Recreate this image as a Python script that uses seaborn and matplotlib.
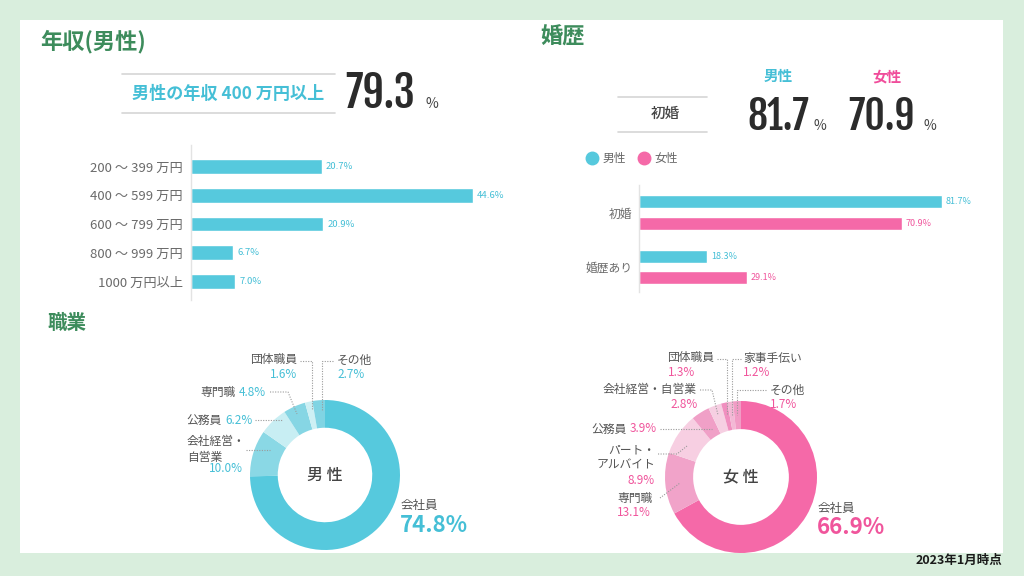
import matplotlib
matplotlib.use('Agg')
import matplotlib.pyplot as plt
import seaborn as sns
import pandas as pd
from matplotlib.lines import Line2D
from matplotlib.patches import Rectangle

sns.set_theme(style='white')
plt.rcParams['font.family'] = ['Noto Sans CJK JP', 'DejaVu Sans']

# ---------------- data ----------------
income_labels = ['200 ～ 399 万円', '400 ～ 599 万円', '600 ～ 799 万円', '800 ～ 999 万円', '1000 万円以上']
income_values = [20.7, 44.6, 20.9, 6.7, 7.0]
income_headline = 79.3

marriage_categories = ['初婚', '婚歴あり']
marriage_men = [81.7, 18.3]
marriage_women = [70.9, 29.1]

job_men_labels = ['会社員', '会社経営・自営業', '公務員', '専門職', '団体職員', 'その他']
job_men_values = [74.8, 10.0, 6.2, 4.8, 1.6, 2.7]
job_women_labels = ['会社員', '専門職', 'パート・アルバイト', '公務員', '会社経営・自営業',
                    '団体職員', '家事手伝い', 'その他']
job_women_values = [66.9, 13.1, 8.9, 3.9, 2.8, 1.3, 1.2, 1.7]

# ---------------- style ----------------
W, H = 1024, 576
BG = '#d9eedd'
GREEN = '#3d8c5c'
CYAN = '#56c9dd'
CYAN_T = '#45bfd6'
PINK = '#f569a8'
PINK_T = '#f0559c'
DARK = '#555555'
NUM = '#2b2b2b'
NUMFONT = ['Fjalla One', 'Roboto Condensed', 'IBM Plex Sans Condensed', 'DejaVu Sans']
male_colors = ['#56c9dd', '#8ad8e5', '#c8eef3', '#86d6e4', '#cdf0f4', '#80d4e3']
female_colors = ['#f569a8', '#f1a3c9', '#f7cfe2', '#f0a0c7', '#f6cfe2', '#f08fbf', '#f3b8d5', '#f19cc5']

fig = plt.figure(figsize=(W / 100, H / 100), dpi=100, facecolor=BG)


def rect(x0, y0, x1, y1):
    return [x0 / W, 1 - y1 / H, (x1 - x0) / W, (y1 - y0) / H]


# background card
bg = fig.add_axes([0, 0, 1, 1])
bg.set_xlim(0, W)
bg.set_ylim(H, 0)
bg.axis('off')
bg.add_patch(Rectangle((20, 20), 983, 533, facecolor='white', edgecolor='none'))

# ---------------- income bars ----------------
ax1 = fig.add_axes(rect(191, 145, 520, 300))
ax1.set_facecolor('none')
df_inc = pd.DataFrame({'label': income_labels, 'value': income_values})
sns.barplot(data=df_inc, x='value', y='label', ax=ax1, color=CYAN, width=0.52, saturation=1)
ax1.set_xlim(0, 52.09)
ax1.set_ylim(4.643, -0.748)
for s in ['top', 'right', 'bottom']:
    ax1.spines[s].set_visible(False)
ax1.spines['left'].set_color('#e3e3e3')
ax1.spines['left'].set_linewidth(1)
ax1.set_xticks([])
ax1.set_xlabel('')
ax1.set_ylabel('')
ax1.tick_params(axis='y', length=0, pad=6, labelsize=9.5, labelcolor='#6a6a6a')
for c in ax1.containers:
    ax1.bar_label(c, fmt='%.1f%%', padding=3, fontsize=6.8, color=CYAN_T)

# ---------------- marriage bars ----------------
ax2 = fig.add_axes(rect(639, 185, 1000, 292))
ax2.set_facecolor('none')
df_mar = pd.DataFrame({
    'cat': marriage_categories * 2,
    'sex': ['男性'] * len(marriage_men) + ['女性'] * len(marriage_women),
    'value': marriage_men + marriage_women,
})
sns.barplot(data=df_mar, x='value', y='cat', hue='sex', hue_order=['男性', '女性'],
            palette={'男性': CYAN, '女性': PINK}, width=0.8, gap=0.4, saturation=1,
            legend=False, ax=ax2)
ax2.set_xlim(0, 97.4)
ax2.set_ylim(1.459, -0.505)
for s in ['top', 'right', 'bottom']:
    ax2.spines[s].set_visible(False)
ax2.spines['left'].set_color('#e3e3e3')
ax2.spines['left'].set_linewidth(1)
ax2.set_xticks([])
ax2.set_xlabel('')
ax2.set_ylabel('')
ax2.tick_params(axis='y', length=0, pad=5, labelsize=8.5, labelcolor='#6a6a6a')
ax2.bar_label(ax2.containers[0], fmt='%.1f%%', padding=3, fontsize=6.5, color=CYAN_T)
ax2.bar_label(ax2.containers[1], fmt='%.1f%%', padding=3, fontsize=6.5, color=PINK_T)

fig.legend(handles=[Line2D([], [], marker='o', ls='none', color=CYAN, markersize=9),
                    Line2D([], [], marker='o', ls='none', color=PINK, markersize=9)],
           labels=['男性', '女性'], loc='center left', bbox_to_anchor=(586 / W, 1 - 158.5 / H),
           ncol=2, frameon=False, handlelength=1.0, handletextpad=0.4, columnspacing=1.0,
           fontsize=8.5, borderpad=0, borderaxespad=0, labelcolor='#666666')

# ---------------- donuts ----------------
ax3 = fig.add_axes(rect(250, 400, 400, 550))
ax3.pie(job_men_values, colors=male_colors, startangle=90, counterclock=False,
        wedgeprops=dict(width=0.37, edgecolor='none'), radius=1)
ax3.set_xlim(-1, 1)
ax3.set_ylim(-1, 1)
ax3.set_aspect('equal')
ax3.text(0, 0, '男 性', ha='center', va='center', fontsize=11.5, color='#444444', fontweight='medium')

ax4 = fig.add_axes(rect(665, 401, 817, 553))
ax4.pie(job_women_values, colors=female_colors, startangle=90, counterclock=False,
        wedgeprops=dict(width=0.37, edgecolor='none'), radius=1)
ax4.set_xlim(-1, 1)
ax4.set_ylim(-1, 1)
ax4.set_aspect('equal')
ax4.text(0, 0, '女 性', ha='center', va='center', fontsize=11.5, color='#444444', fontweight='medium')

# ---------------- overlay text ----------------
top = fig.add_axes([0, 0, 1, 1])
top.set_facecolor('none')
top.set_xlim(0, W)
top.set_ylim(H, 0)
top.axis('off')


def t(x, y, s, ha='left', va='center', size=8.5, color=DARK, weight='normal', family=None):
    kw = {}
    if family is not None:
        kw['family'] = family
    return top.text(x, y, s, ha=ha, va=va, fontsize=size, color=color, fontweight=weight, **kw)


def lead(pts):
    xs = [p[0] for p in pts]
    ys = [p[1] for p in pts]
    top.plot(xs, ys, color='#9a9a9a', lw=0.8, ls=(0, (1, 1.3)))


# section titles
t(40, 42, '年収(男性)', size=16, color=GREEN, weight='bold')
t(540, 37, '婚歴', size=16, color=GREEN, weight='bold')
t(48, 323, '職業', size=14, color=GREEN, weight='bold')

# income headline
top.plot([122, 335], [74, 74], color='#d6d6d6', lw=1.2)
top.plot([122, 335], [113, 113], color='#d6d6d6', lw=1.2)
t(132, 94, '男性の年収 400 万円以上', size=12.3, color=CYAN_T, weight='bold')
t(345, 108, f'{income_headline:.1f}', va='baseline', size=30.5, color=NUM, weight='bold', family=NUMFONT)
t(425, 108, '%', va='baseline', size=10, color='#444444')

# marriage headline
t(778, 76, '男性', ha='center', size=10.5, color=CYAN_T, weight='bold')
t(887, 76, '女性', ha='center', size=10.5, color='#f04d9b', weight='bold')
top.plot([618, 707], [97, 97], color='#d6d6d6', lw=1.2)
top.plot([618, 707], [132, 132], color='#d6d6d6', lw=1.2)
t(665, 114, marriage_categories[0], ha='center', size=10.5, color='#444444', weight='medium')
t(747, 130, f'{marriage_men[0]:.1f}', va='baseline', size=28.5, color=NUM, weight='bold', family=NUMFONT)
t(814, 130, '%', va='baseline', size=10, color='#444444')
t(848, 130, f'{marriage_women[0]:.1f}', va='baseline', size=28.5, color=NUM, weight='bold', family=NUMFONT)
t(923, 130, '%', va='baseline', size=10, color='#444444')

# male donut labels
mv = job_men_values
t(297, 360, '団体職員', ha='right')
t(297, 375, f'{mv[4]:.1f}%', ha='right', color=CYAN_T)
lead([(300, 361), (312, 361), (312, 410)])
t(337, 360, 'その他')
t(337, 375, f'{mv[5]:.1f}%', color=CYAN_T)
lead([(333, 361), (322, 361), (322, 410)])
t(236, 392, '専門職', ha='right')
t(239, 392, f'{mv[3]:.1f}%', color=CYAN_T)
lead([(270, 392), (288, 392), (297, 414)])
t(222, 420, '公務員', ha='right')
t(225, 420, f'{mv[2]:.1f}%', color=CYAN_T)
lead([(255, 420), (282, 420)])
t(187, 442, '会社経営・')
t(187, 457, '自営業')
t(243, 469, f'{mv[1]:.1f}%', ha='right', color=CYAN_T)
lead([(246, 450), (270, 450)])
t(401, 505, '会社員', size=9)
t(400, 526, f'{mv[0]:.1f}%', size=16, color=CYAN_T, weight='bold')

# female donut labels
fv = job_women_values
t(667, 358, '団体職員')
t(668, 373, f'{fv[5]:.1f}%', color=PINK_T)
lead([(717, 359), (727, 359), (727, 415)])
t(743, 358, '家事手伝い')
t(743, 373, f'{fv[6]:.1f}%', color=PINK_T)
lead([(741, 359), (732, 359), (732, 415)])
t(770, 390, 'その他')
t(770, 404, f'{fv[7]:.1f}%', color=PINK_T)
lead([(766, 390), (737, 390), (737, 415)])
t(697, 390, '会社経営・自営業', ha='right')
t(698, 404, f'{fv[4]:.1f}%', ha='right', color=PINK_T)
lead([(700, 390), (712, 390), (718, 415)])
t(627, 429, '公務員', ha='right')
t(630, 429, f'{fv[3]:.1f}%', color=PINK_T)
lead([(660, 429), (712, 429)])
t(655, 450, 'パート・', ha='right')
t(655, 465, 'アルバイト', ha='right')
t(655, 480, f'{fv[2]:.1f}%', ha='right', color=PINK_T)
lead([(658, 454), (677, 454), (687, 446)])
t(617, 498, '専門職')
t(617, 513, f'{fv[1]:.1f}%', color=PINK_T)
lead([(660, 498), (680, 483)])
t(818, 508, '会社員', size=9)
t(817, 528, f'{fv[0]:.1f}%', size=16, color=PINK_T, weight='bold')

# footnote
t(1002, 560, '2023年1月時点', ha='right', size=9, color='#1a1a1a', weight='bold')

fig.savefig('out.png', dpi=100, facecolor=BG)
